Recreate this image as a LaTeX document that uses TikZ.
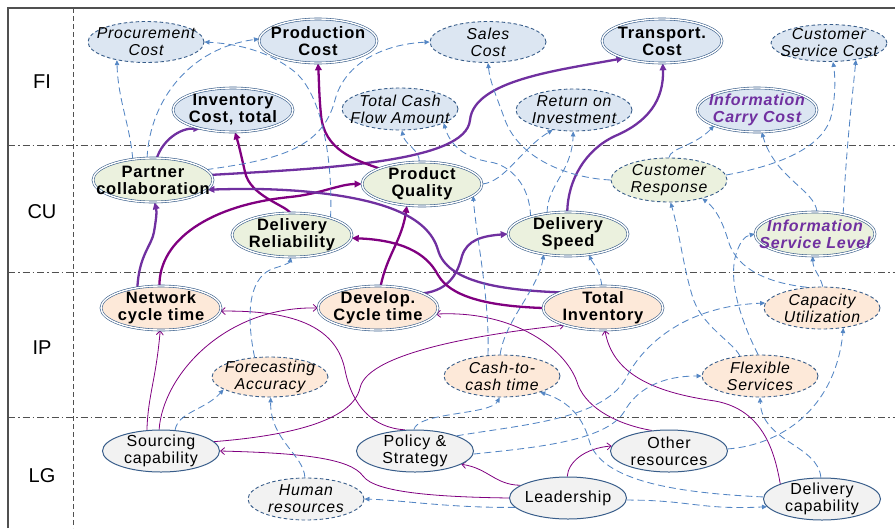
\documentclass[tikz,border=0pt]{standalone}
\usepackage{fontspec}
\setmainfont{Liberation Sans}
\newfontfamily\lblfont{Liberation Sans}[LetterSpace=5]
\usetikzlibrary{shapes.geometric,arrows.meta}

\definecolor{nodeedge}{RGB}{56,93,138}
\definecolor{dashblue}{RGB}{84,134,196}
\definecolor{fiC}{RGB}{220,230,242}
\definecolor{cuC}{RGB}{235,241,222}
\definecolor{ipC}{RGB}{253,233,217}
\definecolor{lgC}{RGB}{242,242,242}
\definecolor{vio}{RGB}{112,48,160}
\definecolor{mag}{RGB}{128,0,128}
\definecolor{infotext}{RGB}{112,48,160}
\definecolor{lanecol}{RGB}{80,80,80}

\pgfdeclarelayer{edges}
\pgfsetlayers{edges,main}

\tikzset{
  base/.style={ellipse, inner sep=0pt, minimum width=120pt, minimum height=44pt},
  dbl/.style={base, draw=nodeedge, line width=0.6pt, double=white, double distance=1.4pt},
  dsh/.style={base, draw=nodeedge, line width=0.9pt, dash pattern=on 3.5pt off 2.5pt,
              minimum width=116pt, minimum height=41pt},
  sgl/.style={base, draw=nodeedge, line width=1pt, minimum width=117pt, minimum height=42pt},
  txb/.style={align=center, inner sep=0pt, font=\lblfont\bfseries\fontsize{16.5}{17}\selectfont},
  txi/.style={align=center, inner sep=0pt, font=\lblfont\itshape\fontsize{15.8}{17}\selectfont},
  txr/.style={align=center, inner sep=0pt, font=\lblfont\fontsize{16}{17}\selectfont},
  txp/.style={align=center, inner sep=0pt, text=infotext,
              font=\lblfont\bfseries\itshape\fontsize{16}{17}\selectfont},
  lane/.style={font=\fontsize{20}{22}\selectfont, inner sep=0pt},
  vioE/.style={draw=vio, line width=2.3pt, -{Triangle[length=7pt,width=6.5pt]}},
  magE/.style={draw=mag, line width=2.3pt, -{Triangle[length=7pt,width=6.5pt]}},
  thn/.style={draw=mag, line width=0.8pt, -{Straight Barb[length=4pt,width=7pt]}},
  dsl/.style={draw=dashblue, line width=0.85pt, dash pattern=on 7pt off 4pt,
              -{Triangle[length=5pt,width=4.5pt]}},
  sep/.style={draw=lanecol, line width=1pt, dash pattern=on 7pt off 3pt on 1.5pt off 3pt}
}

\begin{document}
\begin{tikzpicture}[x=1pt,y=1pt]
\useasboundingbox (0,0) rectangle (895,-528);

% ---------- financial indicators ----------
\node[dsh, fill=fiC, label={[txi]center:{Procurement\\Cost}}] (proc) at (146,-42) {};
\node[dbl, fill=fiC, minimum width=118pt, label={[txb]center:{Production\\Cost}}] (prodc) at (318,-41) {};
\node[dsh, fill=fiC, label={[txi]center:{Sales\\Cost}}] (sales) at (488,-42) {};
\node[dbl, fill=fiC, label={[txb]center:{Transport.\\Cost}}] (trans) at (662,-41) {};
\node[dsh, fill=fiC, minimum height=37pt, label={[txi]center:{Customer\\Service Cost}}] (csc) at (829,-43) {};
\node[dbl, fill=fiC, label={[txb]center:{Inventory\\Cost, total}}] (invc) at (233,-110) {};
\node[dsh, fill=fiC, minimum height=42pt, label={[txi]center:{Total Cash\\Flow Amount}}] (tcf) at (400,-109) {};
\node[dsh, fill=fiC, minimum height=42pt, label={[txi]center:{Return on\\Investment}}] (roi) at (574,-110) {};
\node[dbl, fill=fiC, label={[txp]center:{Information\\Carry Cost}}] (icc) at (757,-110) {};

% ---------- customer ----------
\node[dbl, fill=cuC, label={[txb]center:{Partner\\collaboration}}] (pcol) at (153,-180) {};
\node[dbl, fill=cuC, label={[txb]center:{Product\\Quality}}] (pq) at (422,-184) {};
\node[dsh, fill=cuC, minimum height=44pt, label={[txi]center:{Customer\\Response}}] (cr) at (669,-180) {};
\node[dbl, fill=cuC, label={[txb]center:{Delivery\\Reliability}}] (dr) at (292,-235) {};
\node[dbl, fill=cuC, label={[txb]center:{Delivery\\Speed}}] (ds) at (568,-234) {};
\node[dbl, fill=cuC, label={[txp]center:{Information\\Service Level}}] (isl) at (815,-234) {};

% ---------- internal process ----------
\node[dbl, fill=ipC, label={[txb]center:{Network\\cycle time}}] (nct) at (161,-308) {};
\node[dbl, fill=ipC, label={[txb]center:{Develop.\\Cycle time}}] (dct) at (378,-308) {};
\node[dbl, fill=ipC, label={[txb]center:{Total\\Inventory}}] (ti) at (603,-308) {};
\node[dsh, fill=ipC, minimum height=42pt, label={[txi]center:{Capacity\\Utilization}}] (cu) at (822,-308) {};
\node[dsh, fill=ipC, minimum height=40pt, label={[txi]center:{Forecasting\\Accuracy}}] (fa) at (270,-377) {};
\node[dsh, fill=ipC, minimum height=42pt, label={[txi]center:{Cash-to-\\cash time}}] (c2c) at (502,-376) {};
\node[dsh, fill=ipC, minimum height=42pt, label={[txi]center:{Flexible\\Services}}] (fs) at (760,-376) {};

% ---------- learning and growth ----------
\node[sgl, fill=lgC, label={[txr]center:{Sourcing\\capability}}] (sc) at (161,-451) {};
\node[sgl, fill=lgC, label={[txr]center:{Policy \&\\Strategy}}] (ps) at (415,-451) {};
\node[sgl, fill=lgC, label={[txr]center:{Other\\resources}}] (ores) at (669,-451) {};
\node[dsh, fill=lgC, minimum height=42pt, label={[txi]center:{Human\\resources}}] (hr) at (306,-499) {};
\node[sgl, fill=lgC, label={[txr]center:{Leadership}}] (ld) at (568,-498) {};
\node[sgl, fill=lgC, label={[txr]center:{Delivery\\capability}}] (dc) at (822,-499) {};

% ---------- lane captions ----------
\node[lane] (lFI) at (42,-82) {FI};
\node[lane] (lCU) at (42,-212) {CU};
\node[lane] (lIP) at (42,-348) {IP};
\node[lane] (lLG) at (42,-476) {LG};

\begin{pgfonlayer}{edges}
% frame and lanes
\draw[lanecol, line width=1.6pt] (8,-528) -- (8,-8) -- (895,-8);
\draw[lanecol, line width=0.9pt, dash pattern=on 5pt off 3pt] (73,-8) -- (73,-528);
\draw[sep] (8,-145) -- (895,-145);
\draw[sep] (8,-272) -- (895,-272);
\draw[sep] (8,-417) -- (895,-417);

% strong links
\draw[vioE] (pcol.80) .. controls (163,-140) and (180,-128) .. (invc.-150);
\draw[vioE] (pcol.5) .. controls (330,-168) and (466,-162) .. (470,-120)
            .. controls (474,-80) and (560,-70) .. (trans.-156);
\draw[vioE] (nct.139) .. controls (139,-255) and (152,-245) .. (154,-232)
            .. controls (156,-220) and (157,-212) .. (pcol.-86);
\draw[magE] (nct.94) .. controls (159,-240) and (210,-205) .. (290,-197)
            .. controls (320,-194) and (340,-184) .. (pq.180);
\draw[magE] (dr.95) .. controls (285,-205) and (250,-196) .. (245,-172)
            .. controls (240,-150) and (238,-142) .. (invc.-85);
\draw[magE] (pq.160) .. controls (355,-160) and (324,-150) .. (321,-115)
            .. controls (319,-95) and (319,-80) .. (prodc.-90);
\draw[magE] (dct.83) .. controls (387,-255) and (402,-240) .. (pq.-125);
\draw[vioE] (dct.18) .. controls (450,-290) and (458,-272) .. (462,-256)
            .. controls (467,-240) and (482,-236) .. (ds.180);
\draw[vioE] (ds.92) .. controls (568,-180) and (585,-150) .. (615,-136)
            .. controls (648,-122) and (664,-100) .. (trans.-88);
\draw[vioE] (ti.160) .. controls (500,-290) and (447,-282) .. (438,-250)
            .. controls (428,-215) and (380,-198) .. (300,-191)
            .. controls (260,-188) and (235,-189) .. (pcol.-10);
\draw[magE] (ti.180) .. controls (485,-306) and (450,-296) .. (438,-275)
            .. controls (426,-252) and (400,-240) .. (dr.-3);

% weak links
\draw[thn] (sc.124) .. controls (148,-395) and (156,-380) .. (nct.-92);
\draw[thn] (sc.95) .. controls (163,-375) and (225,-306) .. (dct.180);
\draw[thn] (ps.115) .. controls (372,-428) and (352,-405) .. (345,-370)
           .. controls (337,-330) and (300,-310) .. (nct.-3);
\draw[thn] (sc.10) .. controls (285,-436) and (352,-422) .. (360,-388)
           .. controls (368,-350) and (500,-332) .. (ti.-156);
\draw[thn] (ld.180) .. controls (440,-497) and (375,-493) .. (363,-476)
           .. controls (350,-458) and (300,-453) .. (sc.0);
\draw[thn] (ld.165) .. controls (495,-485) and (488,-468) .. (ps.-16);
\draw[thn] (ld.92) .. controls (568,-462) and (585,-448) .. (ores.175);
\draw[thn] (ores.130) .. controls (620,-425) and (588,-410) .. (578,-385)
           .. controls (568,-350) and (515,-310) .. (dct.-6);
\draw[thn] (dc.160) .. controls (775,-455) and (765,-410) .. (715,-401)
           .. controls (650,-392) and (612,-372) .. (ti.-85);

% indirect links
\draw[dsl] (pcol.134) .. controls (130,-125) and (118,-100) .. (proc.-148);
\draw[dsl] (pcol.105) .. controls (150,-100) and (190,-48) .. (prodc.178);
\draw[dsl] (dr.24) .. controls (333,-160) and (322,-95) .. (295,-72)
           .. controls (270,-52) and (240,-44) .. (proc.0);
\draw[dsl] (pcol.11) .. controls (275,-160) and (322,-150) .. (335,-100)
           .. controls (345,-62) and (385,-44) .. (sales.180);
\draw[dsl] (pq.97) .. controls (420,-150) and (405,-145) .. (tcf.-85);
\draw[dsl] (ds.155) .. controls (530,-185) and (510,-165) .. (490,-162)
           .. controls (465,-158) and (450,-145) .. (tcf.-18);
\draw[dsl] (pq.0) .. controls (505,-182) and (522,-148) .. (roi.-137);
\draw[dsl] (ds.135) .. controls (547,-185) and (572,-172) .. (roi.-92);
\draw[dsl] (cr.180) .. controls (570,-178) and (520,-160) .. (505,-120)
           .. controls (496,-95) and (490,-82) .. (sales.-90);
\draw[dsl] (cr.90) .. controls (670,-148) and (695,-146) .. (icc.-160);
\draw[dsl] (cr.5) .. controls (765,-168) and (826,-152) .. (832,-112)
           .. controls (836,-92) and (835,-75) .. (csc.-78);
\draw[dsl] (isl.85) .. controls (815,-190) and (775,-178) .. (icc.-78);
\draw[dsl] (isl.35) .. controls (846,-150) and (852,-100) .. (csc.-32);
\draw[dsl] (cu.88) .. controls (820,-275) and (813,-270) .. (isl.-96);
\draw[dsl] (cu.126) .. controls (760,-282) and (735,-265) .. (728,-240)
           .. controls (722,-220) and (715,-208) .. (cr.-29);
\draw[dsl] (fs.135) .. controls (733,-342) and (700,-325) .. (692,-295)
           .. controls (683,-265) and (680,-235) .. (cr.-86);
\draw[dsl] (fs.95) .. controls (748,-335) and (728,-290) .. (735,-258)
           .. controls (739,-242) and (745,-236) .. (isl.180);
\draw[dsl] (ps.20) .. controls (520,-425) and (600,-420) .. (625,-380)
           .. controls (645,-340) and (690,-306) .. (cu.175);
\draw[dsl] (ps.-3) .. controls (530,-448) and (605,-442) .. (624,-412)
           .. controls (636,-390) and (660,-376) .. (fs.180);
\draw[dsl] (ores.2) .. controls (780,-445) and (835,-410) .. (cu.-43);
\draw[dsl] (dc.93) .. controls (818,-445) and (762,-442) .. (fs.-90);
\draw[dsl] (ld.-2) .. controls (690,-500) and (700,-510) .. (dc.-172);
\draw[dsl] (dc.178) .. controls (680,-493) and (600,-482) .. (589,-440)
           .. controls (582,-414) and (565,-400) .. (c2c.-23);
\draw[dsl] (ps.93) .. controls (418,-412) and (490,-415) .. (c2c.-96);
\draw[dsl] (ld.190) .. controls (450,-508) and (400,-500) .. (hr.0);
\draw[dsl] (hr.93) .. controls (304,-455) and (270,-440) .. (fa.-88);
\draw[dsl] (sc.56) .. controls (178,-412) and (205,-410) .. (fa.-165);
\draw[dsl] (fa.128) .. controls (245,-310) and (250,-275) .. (275,-268)
           .. controls (288,-264) and (290,-262) .. (dr.-93);
\draw[dsl] (c2c.124) .. controls (490,-300) and (476,-235) .. (pq.-13);
\draw[dsl] (c2c.95) .. controls (505,-320) and (538,-290) .. (ds.-140);
\draw[dsl] (ti.93) .. controls (600,-270) and (592,-262) .. (ds.-45);
\end{pgfonlayer}
\end{tikzpicture}
\end{document}
